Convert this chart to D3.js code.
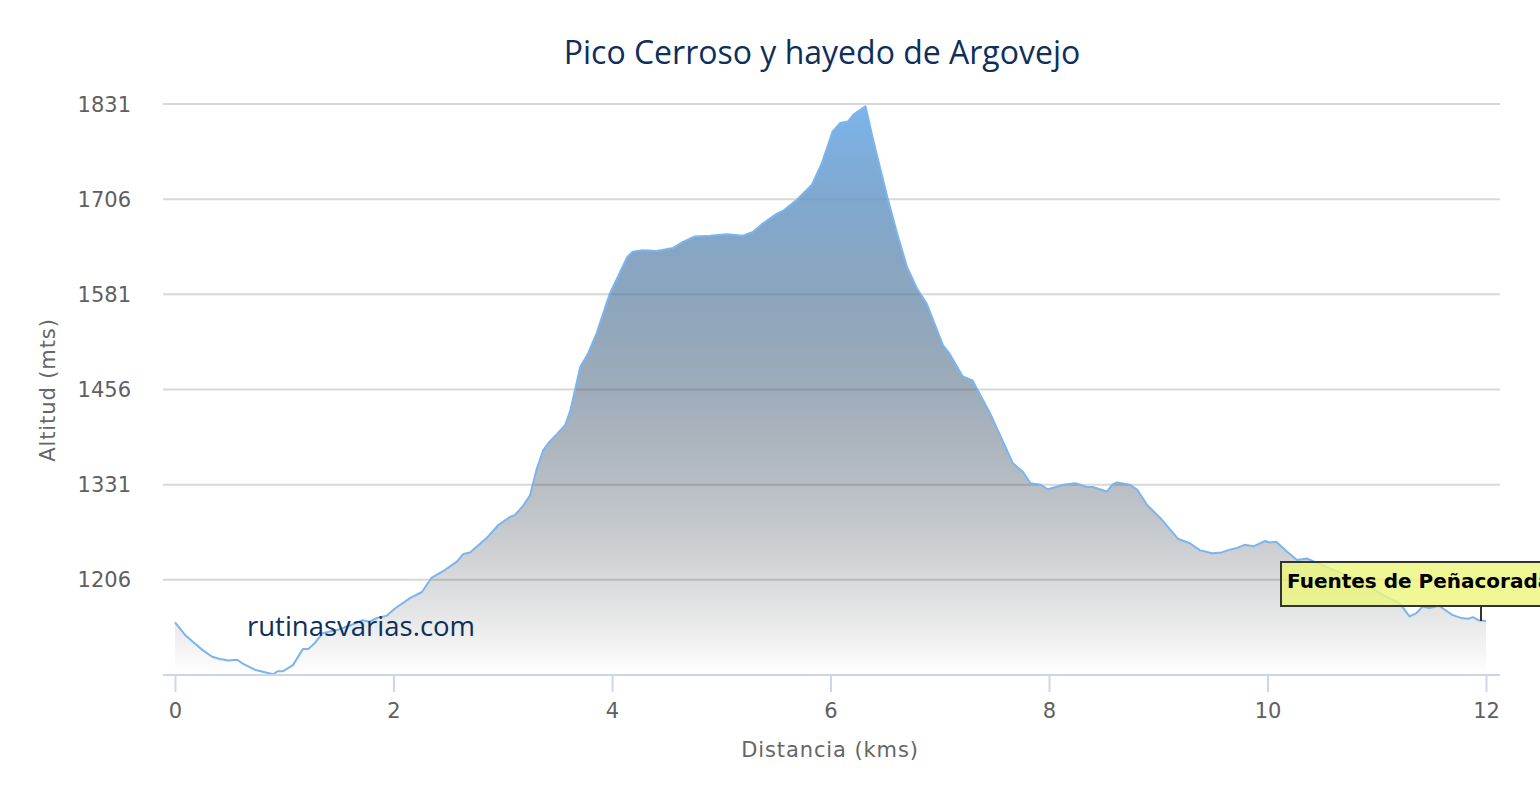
<!DOCTYPE html>
<html>
<head>
<meta charset="utf-8">
<script src="https://cdn.jsdelivr.net/npm/d3@7"></script>
<style>
  body { margin: 0; background: #fff; overflow: hidden; }
</style>
</head>
<body>
<div id="grafico"></div>
<script>
// distancia en kms
var distancias = [0.00, 0.09, 0.16, 0.25, 0.34, 0.41, 0.49, 0.57, 0.62, 0.73, 0.84, 0.90, 0.94, 0.99,
    1.08, 1.17, 1.22, 1.28, 1.35, 1.48, 1.60, 1.72, 1.78, 1.85, 1.94, 2.01, 2.15, 2.26, 2.35, 2.45,
    2.58, 2.64, 2.70, 2.79, 2.86, 2.96, 3.07, 3.11, 3.18, 3.25, 3.31, 3.37, 3.42, 3.50, 3.57, 3.62,
    3.71, 3.78, 3.86, 3.98, 4.14, 4.19, 4.28, 4.41, 4.56, 4.65, 4.76, 4.90, 5.05, 5.20, 5.29, 5.38,
    5.51, 5.57, 5.69, 5.83, 5.92, 6.02, 6.09, 6.16, 6.21, 6.32, 6.39, 6.52, 6.61, 6.70, 6.79, 6.88,
    7.03, 7.09, 7.21, 7.30, 7.46, 7.67, 7.76, 7.83, 7.92, 7.99, 8.13, 8.24, 8.35, 8.40, 8.53, 8.58,
    8.62, 8.74, 8.81, 8.90, 9.02, 9.18, 9.29, 9.38, 9.49, 9.58, 9.64, 9.72, 9.79, 9.87, 9.98, 10.02,
    10.08, 10.18, 10.27, 10.36, 10.57, 10.76, 10.91, 11.06, 11.21, 11.30, 11.36, 11.42, 11.48, 11.57,
    11.63, 11.69, 11.77, 11.84, 11.88, 11.93, 12.00];

// altitud en metros
var altitudes = [1150, 1134, 1125, 1114, 1105, 1102, 1100, 1101, 1096, 1088, 1084, 1082, 1086, 1086,
    1094, 1115, 1115, 1123, 1136, 1140, 1146, 1153, 1151, 1156, 1159, 1168, 1182, 1190, 1209, 1217,
    1230, 1240, 1242, 1253, 1262, 1278, 1289, 1291, 1302, 1317, 1351, 1376, 1386, 1398, 1409, 1429,
    1486, 1503, 1530, 1582, 1630, 1637, 1639, 1638, 1642, 1650, 1657, 1658, 1660, 1658, 1663, 1674,
    1687, 1691, 1705, 1725, 1753, 1795, 1806, 1808, 1817, 1828, 1784, 1709, 1661, 1617, 1589, 1569,
    1514, 1503, 1473, 1468, 1425, 1359, 1348, 1333, 1331, 1325, 1331, 1333, 1328, 1328, 1322, 1331,
    1334, 1331, 1324, 1304, 1287, 1260, 1254, 1245, 1241, 1242, 1245, 1248, 1252, 1250, 1257, 1255,
    1256, 1243, 1232, 1234, 1221, 1210, 1199, 1186, 1175, 1158, 1162, 1171, 1169, 1172,
    1166, 1160, 1156, 1155, 1157, 1153, 1152];

var ticks_y = [1206, 1331, 1456, 1581, 1706, 1831];
var ticks_x = [0, 2, 4, 6, 8, 10, 12];

var titulo = "Pico Cerroso y hayedo de Argovejo";
var marca = "rutinasvarias.com";
var etiqueta_final = "Fuentes de Pe\u00f1acorada";

var width = 1540,
    height = 801;

var svg = d3.select("#grafico").append("svg")
    .attr("width", width)
    .attr("height", height);

var puntos = distancias.map(function(d, i) { return {km: d, alt: altitudes[i]}; });

// escalas
var x = d3.scaleLinear().domain([0, 12]).range([175, 1486]);
var y = d3.scaleLinear().domain([1081, 1831]).range([675, 104]);
var plot_left = 163, plot_right = 1500;

// degradado del relleno (azul -> negro transparente)
var defs = svg.append("defs");
var grad = defs.append("linearGradient")
    .attr("id", "relleno")
    .attr("x1", 0).attr("y1", 0).attr("x2", 0).attr("y2", 1);
grad.append("stop").attr("offset", "0%").attr("stop-color", "#7cb5ec").attr("stop-opacity", 1);
grad.append("stop").attr("offset", "100%").attr("stop-color", "#000000").attr("stop-opacity", 0);

// rejilla
svg.append("g").selectAll("line")
    .data(ticks_y)
    .enter()
    .append("line")
    .attr("x1", plot_left)
    .attr("x2", plot_right)
    .attr("y1", function(d) { return y(d); })
    .attr("y2", function(d) { return y(d); })
    .attr("stroke", "#d8d8d8")
    .attr("stroke-width", 2);

// etiquetas eje y
svg.append("g").selectAll("text")
    .data(ticks_y)
    .enter()
    .append("text")
    .attr("x", 131)
    .attr("y", function(d) { return y(d); })
    .attr("dy", "0.36em")
    .attr("text-anchor", "end")
    .attr("font-family", "DejaVu Sans, sans-serif")
    .attr("font-size", 21)
    .attr("fill", "#606060")
    .text(function(d) { return d; });

// area + linea
var area = d3.area()
    .x(function(d) { return x(d.km); })
    .y0(y(1081))
    .y1(function(d) { return y(d.alt); });

var linea = d3.line()
    .x(function(d) { return x(d.km); })
    .y(function(d) { return y(d.alt); });

svg.append("path")
    .datum(puntos)
    .attr("d", area)
    .attr("fill", "url(#relleno)");

svg.append("path")
    .datum(puntos)
    .attr("d", linea)
    .attr("fill", "none")
    .attr("stroke", "#7cb5ec")
    .attr("stroke-width", 2)
    .attr("stroke-linejoin", "round");

// eje x
var eje_x = d3.axisBottom(x)
    .tickValues(ticks_x)
    .tickSize(17)
    .tickPadding(11)
    .tickFormat(d3.format("d"));

var gx = svg.append("g")
    .attr("transform", "translate(0," + y(1081) + ")")
    .call(eje_x);
gx.select(".domain").remove();
gx.append("line")
    .attr("x1", plot_left).attr("x2", plot_right)
    .attr("y1", 0).attr("y2", 0)
    .attr("stroke", "#ccd6eb")
    .attr("stroke-width", 2);
gx.selectAll(".tick line").attr("stroke", "#ccd6eb").attr("stroke-width", 2);
gx.selectAll(".tick text")
    .attr("font-family", "DejaVu Sans, sans-serif")
    .attr("font-size", 21)
    .attr("fill", "#606060");

// titulos
svg.append("text")
    .attr("x", 822)
    .attr("y", 64)
    .attr("text-anchor", "middle")
    .attr("font-family", "Open Sans, sans-serif")
    .attr("font-size", 32)
    .attr("fill", "#0e2f5a")
    .text(titulo);

svg.append("text")
    .attr("x", 830)
    .attr("y", 757)
    .attr("text-anchor", "middle")
    .attr("font-family", "DejaVu Sans, sans-serif")
    .attr("font-size", 21)
    .attr("letter-spacing", 0.9)
    .attr("fill", "#666666")
    .text("Distancia (kms)");

svg.append("text")
    .attr("transform", "translate(55,390) rotate(-90)")
    .attr("text-anchor", "middle")
    .attr("font-family", "DejaVu Sans, sans-serif")
    .attr("font-size", 21)
    .attr("letter-spacing", 0.9)
    .attr("fill", "#666666")
    .text("Altitud (mts)");

// marca de agua
svg.append("text")
    .attr("x", 247)
    .attr("y", 636)
    .attr("font-family", "Open Sans, sans-serif")
    .attr("font-size", 27.5)
    .attr("fill", "#0e2f5a")
    .text(marca);

// etiqueta del punto final
var ultimo = puntos[puntos.length - 1];
var caja = svg.append("g");
caja.append("line")
    .attr("x1", x(ultimo.km) - 5).attr("x2", x(ultimo.km) - 5)
    .attr("y1", 606).attr("y2", y(ultimo.alt))
    .attr("stroke", "#333")
    .attr("stroke-width", 2);
caja.append("rect")
    .attr("x", 1281)
    .attr("y", 562)
    .attr("width", 300)
    .attr("height", 44)
    .attr("fill", "rgba(236,247,125,0.82)")
    .attr("stroke", "#333")
    .attr("stroke-width", 2);
caja.append("text")
    .attr("x", 1287)
    .attr("y", 588)
    .attr("font-family", "DejaVu Sans, sans-serif")
    .attr("font-weight", "bold")
    .attr("font-size", 20)
    .attr("fill", "#000")
    .text(etiqueta_final);
</script>
</body>
</html>
